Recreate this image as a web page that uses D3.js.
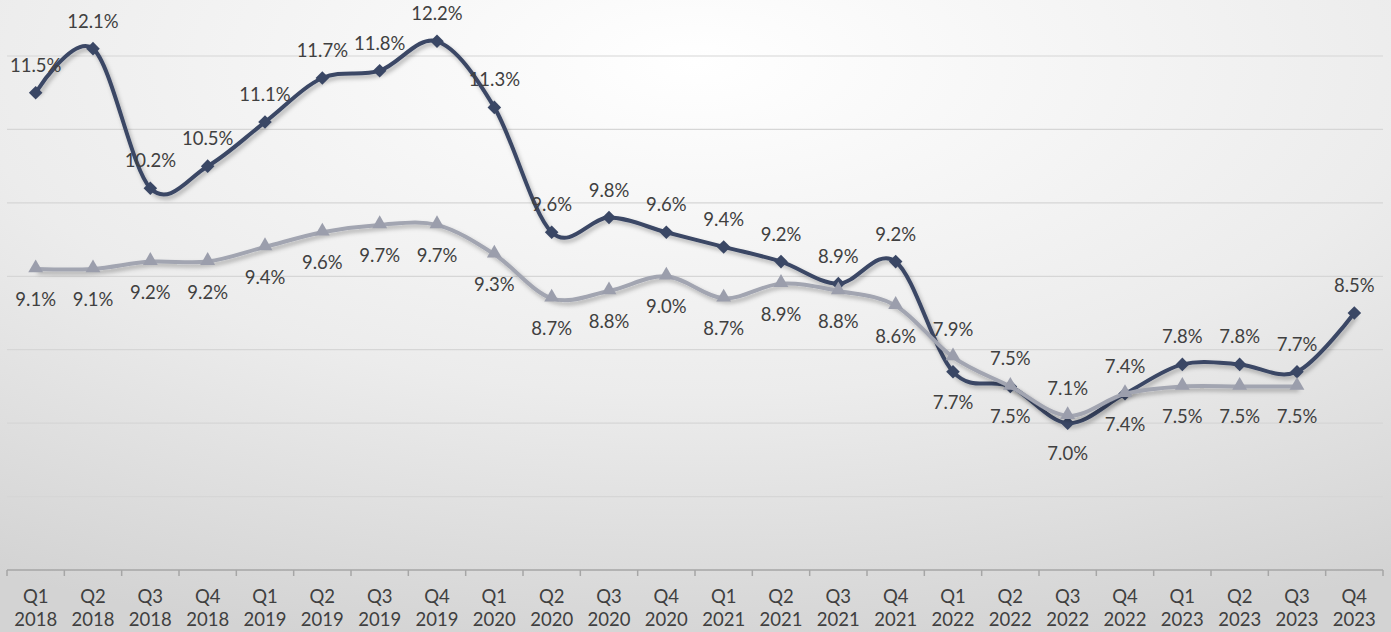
<!DOCTYPE html>
<html>
<head>
<meta charset="utf-8">
<script src="https://cdn.jsdelivr.net/npm/d3@7"></script>
<style>
  html, body { margin: 0; padding: 0; }
  body { width: 1391px; height: 632px; overflow: hidden; }
  svg { display: block; }
</style>
</head>
<body>
<svg id="chart" width="1391" height="632"></svg>
<script>
// Quarterly rates, Q1 2018 – Q4 2023
const quarters = ["Q1","Q2","Q3","Q4","Q1","Q2","Q3","Q4","Q1","Q2","Q3","Q4",
                  "Q1","Q2","Q3","Q4","Q1","Q2","Q3","Q4","Q1","Q2","Q3","Q4"];
const years = ["2018","2018","2018","2018","2019","2019","2019","2019",
               "2020","2020","2020","2020","2021","2021","2021","2021",
               "2022","2022","2022","2022","2023","2023","2023","2023"];
const seriesA = [11.5, 12.1, 10.2, 10.5, 11.1, 11.7, 11.8, 12.2, 11.3, 9.6, 9.8, 9.6,
                 9.4, 9.2, 8.9, 9.2, 7.7, 7.5, 7.0, 7.4, 7.8, 7.8, 7.7, 8.5];
const seriesB = [9.1, 9.1, 9.2, 9.2, 9.4, 9.6, 9.7, 9.7, 9.3, 8.7, 8.8, 9.0,
                 8.7, 8.9, 8.8, 8.6, 7.9, 7.5, 7.1, 7.4, 7.5, 7.5, 7.5];
const gridValues = [6, 7, 8, 9, 10, 11, 12, 13];

// Points where the two label rows swap sides (lines cross in 2022)
const swapLabels = new Set([16, 17, 18]);

const W = 1391, H = 632;
const svg = d3.select("#chart");
const defs = svg.append("defs");

const bg = defs.append("radialGradient").attr("id", "bg")
  .attr("cx", "50%").attr("cy", "10%").attr("r", "95%")
  .attr("fx", "50%").attr("fy", "10%");
bg.append("stop").attr("offset", "0%").attr("stop-color", "#ffffff");
bg.append("stop").attr("offset", "55%").attr("stop-color", "#ececec");
bg.append("stop").attr("offset", "100%").attr("stop-color", "#d3d3d3");

const shadow = defs.append("filter").attr("id", "shadow")
  .attr("x", "-5%").attr("y", "-20%").attr("width", "110%").attr("height", "140%");
shadow.append("feDropShadow").attr("dx", 2).attr("dy", 3)
  .attr("stdDeviation", 2).attr("flood-color", "#000").attr("flood-opacity", 0.28);

svg.append("rect").attr("width", W).attr("height", H).attr("fill", "url(#bg)");

const x = d3.scaleBand().domain(d3.range(quarters.length)).range([7, 1383]);
const y = d3.scaleLinear().domain([5, 12]).range([570, 56]);
const cx = i => x(i) + x.bandwidth() / 2;

// horizontal gridlines
svg.append("g").selectAll("line").data(gridValues).join("line")
  .attr("x1", 7).attr("x2", 1383)
  .attr("y1", d => y(d)).attr("y2", d => y(d))
  .attr("stroke", "#d6d6d6").attr("stroke-width", 1.2);

// category axis with ticks between bands
const axisG = svg.append("g").attr("transform", "translate(0,570)");
axisG.append("line").attr("x1", 7).attr("x2", 1383).attr("y1", 0).attr("y2", 0)
  .attr("stroke", "#a6a6a6").attr("stroke-width", 1.5);
const boundaries = d3.range(quarters.length + 1).map(i => i === quarters.length ? x.range()[1] : x(i));
axisG.selectAll("line.tick").data(boundaries).join("line").attr("class", "tick")
  .attr("x1", d => d).attr("x2", d => d).attr("y1", 0).attr("y2", 6)
  .attr("stroke", "#a6a6a6").attr("stroke-width", 1.5);

const labelFont = "Lato, 'DejaVu Sans', sans-serif";
const axisLabels = axisG.selectAll("text").data(quarters).join("text")
  .attr("text-anchor", "middle")
  .attr("font-family", labelFont).attr("font-size", 18.5).attr("fill", "#404040");
axisLabels.append("tspan").attr("x", (d, i) => cx(i)).attr("y", 33).text(d => d);
axisLabels.append("tspan").attr("x", (d, i) => cx(i)).attr("y", 56).text((d, i) => years[i]);

const line = d3.line().x((d, i) => cx(i)).y(d => y(d)).curve(d3.curveCatmullRom.alpha(0));

const darkColor = "#3a4765";
const greyColor = "#a2a5b1";

// dark series
svg.append("path").datum(seriesA).attr("d", line)
  .attr("fill", "none").attr("stroke", darkColor).attr("stroke-width", 4)
  .attr("stroke-linejoin", "round").attr("filter", "url(#shadow)");
svg.append("g").selectAll("path").data(seriesA).join("path")
  .attr("d", d3.symbol().type(d3.symbolSquare).size(92))
  .attr("transform", (d, i) => `translate(${cx(i)},${y(d)}) rotate(45)`)
  .attr("fill", darkColor);

// grey series
svg.append("path").datum(seriesB).attr("d", line)
  .attr("fill", "none").attr("stroke", greyColor).attr("stroke-width", 4)
  .attr("stroke-linejoin", "round").attr("filter", "url(#shadow)");
svg.append("g").selectAll("path").data(seriesB).join("path")
  .attr("d", d3.symbol().type(d3.symbolTriangle).size(95))
  .attr("transform", (d, i) => `translate(${cx(i)},${y(d) - 1})`)
  .attr("fill", "#9b9eac");

const fmt = v => v.toFixed(1) + "%";
const above = -21, below = 37;

svg.append("g").selectAll("text").data(seriesA).join("text")
  .attr("x", (d, i) => cx(i))
  .attr("y", (d, i) => y(d) + (swapLabels.has(i) ? below : above))
  .attr("text-anchor", "middle")
  .attr("font-family", labelFont).attr("font-size", 18.5).attr("fill", "#404040")
  .text(fmt);

svg.append("g").selectAll("text").data(seriesB).join("text")
  .attr("x", (d, i) => cx(i))
  .attr("y", (d, i) => y(d) + (swapLabels.has(i) ? above : below))
  .attr("text-anchor", "middle")
  .attr("font-family", labelFont).attr("font-size", 18.5).attr("fill", "#404040")
  .text(fmt);
</script>
</body>
</html>
